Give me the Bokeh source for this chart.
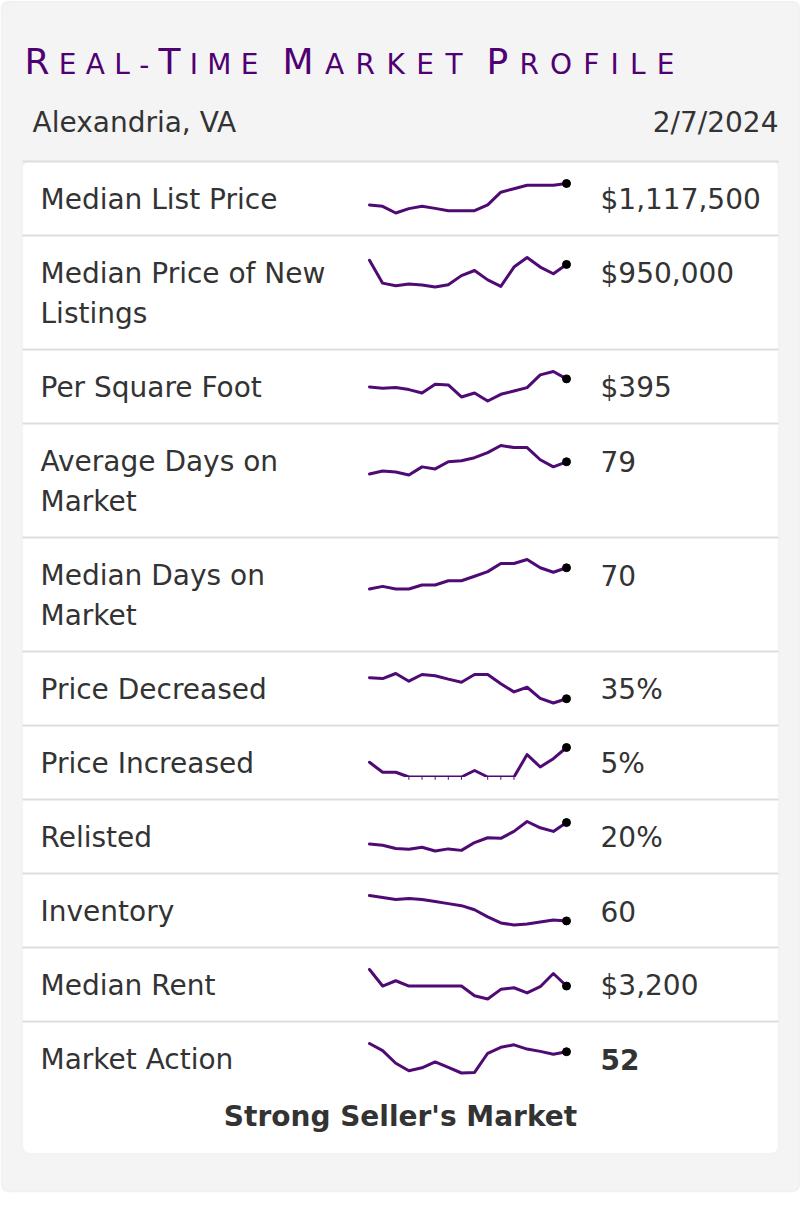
from bokeh.plotting import figure
from bokeh.models import Range1d, BoxAnnotation
from bokeh.embed import file_html
from bokeh.resources import INLINE
from bokeh.core.properties import value

# ---------------- data ----------------
title_words = ["Real-Time", "Market", "Profile"]
location = "Alexandria, VA"
report_date = "2/7/2024"
verdict = "Strong Seller's Market"

label_lines = [
    ["Median List Price"],
    ["Median Price of New", "Listings"],
    ["Per Square Foot"],
    ["Average Days on", "Market"],
    ["Median Days on", "Market"],
    ["Price Decreased"],
    ["Price Increased"],
    ["Relisted"],
    ["Inventory"],
    ["Median Rent"],
    ["Market Action"],
]
display_values = ["$1,117,500", "$950,000", "$395", "79", "70", "35%", "5%",
                  "20%", "60", "$3,200", "52"]

median_list_price = [1025000, 1019000, 990000, 1009000, 1019000, 1010000, 1000000, 1000000,
                     1000000, 1025000, 1080000, 1095000, 1110000, 1110000, 1110000, 1117500]
median_new_listings = [970000, 858000, 845000, 854000, 849000, 839000, 850000, 895000,
                       920000, 874000, 842000, 937000, 984000, 937000, 904000, 950000]
per_square_foot = [383, 381, 382, 379, 374, 387, 386, 368, 374, 362, 372, 377, 382, 401, 406, 395]
avg_days_on_market = [67, 70, 69, 66, 74, 72, 79, 80, 83, 88, 95, 93, 93, 81, 74, 79]
median_days_on_market = [59.5, 60.8, 59.5, 59.5, 61.5, 61.5, 63.6, 63.6, 65.8, 68.1, 72.1,
                         72.1, 74.1, 70.0, 67.8, 70.0]
price_decreased = [45.4, 45.0, 47.5, 43.7, 47.0, 46.4, 44.7, 43.2, 47.0, 47.0, 42.4, 38.4,
                   40.7, 35.2, 32.9, 35.0]
price_increased = [2.5, 0.8, 0.8, 0, 0, 0, 0, 0, 1.1, 0, 0, 0, 3.8, 1.7, 3.1, 5.0]
relisted = [9.8, 9.2, 7.7, 7.3, 8.3, 6.5, 7.5, 6.8, 10.5, 12.8, 12.5, 15.8, 20.5, 17.5, 15.8, 20.0]
inventory = [85, 83, 81, 82, 81, 79, 77, 75, 71, 64, 58, 56, 57, 59, 61, 60]
median_rent = [3325, 3200, 3240, 3200, 3200, 3200, 3200, 3200, 3127, 3102, 3175, 3187, 3148,
               3195, 3295, 3200]
market_action = [56.3, 52.6, 46.0, 42.1, 43.6, 46.7, 43.8, 40.9, 41.2, 51.2, 54.3, 55.6, 53.4,
                 52.2, 50.7, 52.0]

series = [median_list_price, median_new_listings, per_square_foot, avg_days_on_market,
          median_days_on_market, price_decreased, price_increased, relisted, inventory,
          median_rent, market_action]

# ---------------- styling / layout ----------------
W, H = 800, 1224
OX, OY = 0, 0
PURPLE = "#4f0072"
LINE_PURPLE = "#4f0a74"
TEXT = "#333333"
FONT = value("DejaVu Sans")
BASE_FIX = 0.32                  # alphabetic-baseline correction (fraction of font size)


def by(y, size):
    return y - BASE_FIX * size


p = figure(width=W, height=H, x_range=Range1d(OX, OX + W), y_range=Range1d(OY + H, OY),
           x_axis_type=None, y_axis_type=None, toolbar_location=None, output_backend="svg",
           min_border=0, outline_line_color=None, background_fill_color="white",
           border_fill_color="white")

# cards
p.add_layout(BoxAnnotation(left=1, right=799, top=1, bottom=1191, fill_color="#f4f4f4",
                           fill_alpha=1, line_color="#e0e0e0", line_width=2,
                           border_radius=7, level="underlay"))
p.add_layout(BoxAnnotation(left=22, right=778, top=160, bottom=1153, fill_color="#ffffff",
                           fill_alpha=1, line_color="#e8e8e8", line_width=1.5,
                           border_radius=8, level="underlay"))

# title in letter-spaced small caps, each word fitted to its span
adv = {"R": 1423, "E": 1294, "A": 1401, "L": 1141, "-": 739, "T": 1251, "I": 604, "M": 1767,
       "K": 1343, "P": 1235, "O": 1612, "F": 1176}
word_spans = [(24, 258), (282, 462), (486, 674)]
BIG, SMALL = 36, 28
tx = {BIG: [], SMALL: []}
tt = {BIG: [], SMALL: []}
for word, (w0, w1) in zip(title_words, word_spans):
    sizes = [BIG if ch.isupper() else SMALL for ch in word]
    letters = word.upper()
    widths = [adv[c] * s / 2048 for c, s in zip(letters, sizes)]
    gap = (w1 - w0 - sum(widths)) / (len(letters) - 1)
    cur = w0
    for c, s, w in zip(letters, sizes, widths):
        tx[s].append(cur)
        tt[s].append(c)
        cur += w + gap
for fs in (BIG, SMALL):
    p.text(x=tx[fs], y=[by(73, fs)] * len(tx[fs]), text=tt[fs],
           text_font=FONT, text_font_size=f"{fs}px", text_color=PURPLE,
           text_baseline="alphabetic", text_align="left")

# header
p.text(x=[32], y=[by(131, 28)], text=[location], text_font=FONT, text_font_size="28px",
       text_color=TEXT, text_baseline="alphabetic", text_align="left")
p.text(x=[778], y=[by(131, 28)], text=[report_date], text_font=FONT, text_font_size="28px",
       text_color=TEXT, text_baseline="alphabetic", text_align="right")

# rows
row_tops = []
top = 161
for lines in label_lines:
    row_tops.append(top)
    top += 74 + 40 * (len(lines) - 1)

p.segment(x0=[22] * len(row_tops), x1=[778] * len(row_tops), y0=row_tops, y1=row_tops,
          line_color="#dddddd", line_width=2)

SX0, SX1 = 369, 566
n = len(series[0])
ux = (n - 1) / (SX1 - SX0)
xs0 = -(SX0 - OX) * ux
p.extra_x_ranges["spark"] = Range1d(xs0, xs0 + W * ux)

for i, (lines, val, data, rt) in enumerate(zip(label_lines, display_values, series, row_tops)):
    lx, ly, lt = [], [], []
    for k, ln in enumerate(lines):
        lx.append(40); ly.append(by(rt + 47 + 40 * k, 28)); lt.append(ln)
    p.text(x=lx, y=ly, text=lt, text_font=FONT, text_font_size="28px", text_color=TEXT,
           text_baseline="alphabetic", text_align="left")
    bold = i == len(label_lines) - 1
    p.text(x=[600], y=[by(rt + 47, 28)], text=[val], text_font=FONT, text_font_size="28px",
           text_color=TEXT, text_baseline="alphabetic", text_align="left",
           text_font_style="bold" if bold else "normal")

    vmax, vmin = max(data), min(data)
    top_px, bot_px = rt + 22, rt + 51.5
    u = (vmax - vmin) / (bot_px - top_px)
    end = vmax + (top_px - OY) * u
    name = f"r{i}"
    p.extra_y_ranges[name] = Range1d(end - H * u, end)
    p.line(x=list(range(n)), y=data, x_range_name="spark", y_range_name=name,
           line_color=LINE_PURPLE, line_width=3, line_join="round", line_cap="round")

    # runs that sit on the floor of the sparkline are clipped, with small ticks
    floor_idx = [j for j in range(n) if data[j] == vmin]
    flat = [j for j in floor_idx if (j + 1 in floor_idx) or (j - 1 in floor_idx)]
    if len(flat) >= 3:
        p.quad(left=[min(flat) - 0.3], right=[max(flat) + 0.3], top=[vmin],
               bottom=[vmin - 2.5 * u], x_range_name="spark", y_range_name=name,
               fill_color="white", line_color=None)
        p.segment(x0=flat, x1=flat, y0=[vmin] * len(flat), y1=[vmin - 2.8 * u] * len(flat),
                  x_range_name="spark", y_range_name=name, line_color=LINE_PURPLE,
                  line_width=1)

    p.scatter(x=[n - 1], y=[data[-1]], x_range_name="spark", y_range_name=name,
              size=8, fill_color="black", line_color="black")

p.text(x=[400], y=[by(1125, 28)], text=[verdict], text_font=FONT, text_font_size="28px",
       text_color=TEXT, text_baseline="alphabetic", text_align="center",
       text_font_style="bold")

open("out.html", "w").write(file_html(p, INLINE))
